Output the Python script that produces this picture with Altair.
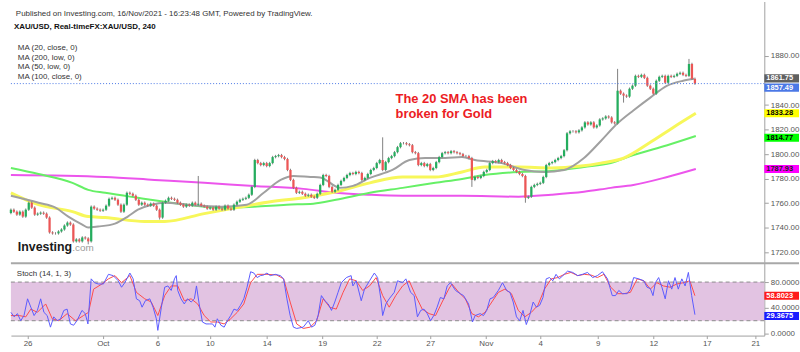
import json
import altair as alt
import pandas as pd

# ---------------- data ----------------
first_open = 1752.0
closes = [
    1754.7, 1753.1, 1750.7, 1753.1, 1749.1, 1754.7, 1760.4, 1756.4, 1750.7, 1751.5,
    1752.3, 1751.5, 1748.3, 1736.2, 1735.4, 1735.4, 1737.0, 1738.6, 1741.8, 1744.2,
    1742.6, 1728.9, 1730.5, 1728.9, 1732.1, 1731.3, 1728.9, 1757.2, 1755.6, 1754.7,
    1753.9, 1754.7, 1758.0, 1763.6, 1764.4, 1762.8, 1758.8, 1753.1, 1758.8, 1768.5,
    1767.7, 1766.1, 1762.8, 1758.8, 1760.4, 1758.8, 1758.0, 1759.6, 1758.0, 1754.7,
    1748.3, 1760.4, 1762.0, 1764.4, 1763.6, 1762.8, 1760.4, 1758.8, 1757.2, 1758.8,
    1758.0, 1760.4, 1758.8, 1759.6, 1758.0, 1757.2, 1755.6, 1756.4, 1754.7, 1757.2,
    1755.6, 1754.7, 1758.0, 1755.6, 1754.7, 1758.8, 1761.2, 1762.8, 1763.6, 1764.4,
    1766.9, 1773.3, 1795.2, 1792.7, 1791.1, 1792.7, 1790.3, 1792.7, 1797.6, 1798.4,
    1799.2, 1797.6, 1796.0, 1787.1, 1779.0, 1772.5, 1768.5, 1769.3, 1767.7, 1766.1,
    1766.9, 1765.3, 1764.4, 1767.7, 1774.9, 1783.0, 1782.2, 1773.3, 1769.3, 1770.9,
    1774.9, 1778.2, 1780.6, 1783.0, 1784.6, 1783.8, 1785.5, 1784.6, 1779.0, 1780.6,
    1783.8, 1787.1, 1788.7, 1792.7, 1795.2, 1787.1, 1793.5, 1796.8, 1798.4, 1801.6,
    1805.7, 1808.9, 1808.9, 1808.1, 1807.3, 1801.6, 1800.8, 1791.1, 1792.7, 1790.3,
    1791.9, 1787.1, 1788.7, 1793.5, 1797.6, 1800.8, 1801.6, 1800.8, 1802.4, 1801.6,
    1800.8, 1800.0, 1798.4, 1798.4, 1796.8, 1779.0, 1781.4, 1780.6, 1782.2, 1785.5,
    1787.1, 1792.7, 1794.3, 1793.5, 1795.2, 1793.5, 1792.7, 1791.1, 1788.7, 1787.1,
    1785.5, 1783.8, 1782.2, 1764.4, 1765.3, 1773.3, 1774.9, 1775.8, 1776.6, 1781.4,
    1791.1, 1792.7, 1793.5, 1795.2, 1796.8, 1798.4, 1803.2, 1817.0, 1818.6, 1818.6,
    1817.8, 1819.4, 1821.8, 1825.9, 1824.2, 1825.9, 1821.8, 1823.4, 1828.3, 1829.1,
    1830.7, 1829.9, 1825.9, 1825.1, 1851.7, 1849.3, 1847.7, 1846.9, 1853.3, 1855.8,
    1863.8, 1863.0, 1864.6, 1862.2, 1855.8, 1853.3, 1849.3, 1859.8, 1863.0, 1863.8,
    1858.2, 1863.8, 1863.0, 1863.8, 1865.5, 1866.3, 1864.6, 1863.8, 1873.5, 1861.4,
    1857.49,
]
wick = 1.0
high_spikes = {63: 1782.2, 125: 1813.7, 204: 1869.5, 228: 1877.6}
low_spikes = {26: 1726.5, 50: 1746.7, 155: 1773.3, 173: 1760.4, 206: 1842.0}

ma20_pts = [(0, 1766.1), (9.3, 1760.4), (15, 1756.4), (19.3, 1749.1), (24, 1742.6), (26, 1740.2),
            (29.3, 1741.0), (35, 1743.4), (39.3, 1749.1), (42.7, 1754.7), (47.3, 1758.8), (51.7, 1760.4),
            (59.3, 1758.8), (70.7, 1757.2), (79.3, 1758.8), (85, 1768.5), (90.7, 1779.0), (95, 1782.2),
            (100.7, 1781.4), (104, 1781.0), (110.7, 1772.5), (115, 1774.1), (120.7, 1780.6), (128.3, 1787.1),
            (134, 1795.2), (139.3, 1796.8), (146, 1796.8), (151.7, 1797.6), (156, 1795.2), (165, 1792.7),
            (172.7, 1787.1), (179.3, 1785.5), (186, 1787.1), (192.7, 1796.8), (198.3, 1810.5), (204, 1825.1),
            (209.3, 1835.6), (215, 1846.1), (220.7, 1855.8), (226, 1859.8), (229.7, 1861.4)]
ma50_pts = [(0, 1768.5), (9.3, 1758.8), (20.7, 1753.1), (26, 1749.1), (31.7, 1748.3), (45, 1745.1),
            (51.7, 1745.1), (65, 1751.5), (76, 1756.4), (87.3, 1761.2), (98.3, 1764.4), (109.3, 1769.3),
            (120.7, 1776.6), (131.7, 1781.4), (142.7, 1781.4), (151.7, 1785.5), (159.3, 1789.5),
            (170.7, 1789.5), (181.7, 1788.7), (191.7, 1790.3), (198.3, 1792.7), (206, 1796.8),
            (215, 1809.7), (222.7, 1821.8), (230.3, 1833.3)]
ma100_pts = [(0, 1788.7), (9.3, 1783.8), (20.7, 1776.6), (26, 1770.9), (31.7, 1768.5), (42.7, 1764.4),
             (51.7, 1761.2), (59.3, 1758.8), (70.7, 1756.4), (81.7, 1757.2), (92.7, 1758.8), (101.7, 1759.6),
             (109.3, 1762.8), (120.7, 1768.5), (131.7, 1772.5), (142.7, 1776.6), (151.7, 1779.8),
             (159.3, 1783.0), (170.7, 1785.5), (181.7, 1786.3), (192.7, 1789.5), (201.7, 1792.7),
             (209.3, 1799.2), (220.7, 1807.3), (230.3, 1814.8)]
ma200_pts = [(0, 1783.0), (31.7, 1781.4), (48.3, 1779.0), (65, 1776.6), (81.7, 1774.1), (98.3, 1771.7),
             (109.3, 1768.5), (120.7, 1766.9), (131.7, 1766.1), (151.7, 1766.1), (170.7, 1765.3),
             (181.7, 1766.9), (192.7, 1769.3), (201.7, 1772.5), (209.3, 1774.9), (220.7, 1781.4),
             (230.3, 1787.9)]

k_pts = [(0.0, 33), (1.1, 26), (2.2, 31), (3.3, 20), (4.4, 28), (5.6, 54), (6.7, 41), (7.8, 28), (8.9, 36),
         (10.0, 54), (11.1, 33), (12.2, 28), (13.3, 10), (14.4, 26), (15.6, 20), (16.7, 23), (17.8, 36),
         (18.9, 38), (20.0, 15), (21.1, 13), (22.2, 20), (23.9, 36), (25.0, 31), (25.9, 15), (27.0, 85),
         (28.1, 79), (29.4, 77), (31.1, 77), (32.8, 92), (34.4, 90), (36.1, 82), (37.2, 72), (38.3, 79),
         (40.0, 94), (41.1, 85), (42.2, 54), (43.3, 51), (44.1, 41), (45.2, 51), (46.7, 54), (47.8, 41),
         (48.9, 23), (49.4, 5), (50.6, 41), (51.7, 72), (52.8, 74), (53.9, 67), (55.0, 85), (55.6, 90),
         (56.1, 67), (57.2, 54), (58.3, 46), (59.4, 54), (60.6, 49), (61.7, 54), (62.4, 74), (63.3, 46),
         (64.4, 18), (65.6, 15), (66.7, 15), (67.8, 15), (68.6, 10), (69.4, 23), (70.6, 13), (71.7, 10),
         (72.8, 20), (73.9, 28), (75.0, 38), (76.1, 36), (77.2, 44), (78.3, 54), (79.4, 72), (80.6, 96),
         (81.7, 94), (82.8, 87), (83.9, 90), (85.0, 91), (86.1, 94), (87.2, 90), (88.9, 92), (90.6, 90),
         (91.7, 85), (92.8, 54), (93.9, 28), (95.0, 10), (96.1, 8), (97.2, 9), (98.3, 10), (100.0, 20),
         (101.1, 10), (102.2, 13), (103.3, 28), (104.4, 59), (105.6, 51), (106.7, 46), (107.8, 36),
         (108.9, 49), (110.0, 64), (111.1, 79), (112.8, 87), (114.4, 90), (115.0, 74), (116.1, 82),
         (117.8, 51), (118.9, 69), (120.6, 82), (122.2, 94), (123.3, 87), (124.4, 54), (125.0, 28),
         (126.1, 46), (127.2, 54), (128.9, 64), (130.0, 82), (131.7, 79), (132.8, 85), (134.4, 64),
         (135.6, 59), (136.7, 26), (137.8, 36), (138.9, 38), (140.0, 31), (141.1, 20), (142.2, 28),
         (143.3, 41), (144.4, 56), (145.6, 54), (146.7, 74), (147.8, 79), (149.5, 67), (151.1, 62),
         (152.2, 59), (153.9, 46), (155.2, 18), (156.1, 28), (157.8, 31), (158.9, 28), (160.0, 36),
         (161.1, 54), (162.2, 56), (163.9, 67), (165.3, 79), (166.7, 67), (167.8, 64), (168.9, 49),
         (170.0, 26), (171.1, 20), (172.2, 36), (173.3, 14), (174.4, 28), (175.6, 49), (176.7, 41),
         (177.8, 44), (178.9, 56), (180.0, 85), (181.1, 87), (182.2, 82), (183.3, 92), (184.4, 85),
         (185.6, 90), (187.2, 97), (188.9, 95), (190.6, 90), (192.2, 92), (193.9, 95), (195.6, 87),
         (197.2, 90), (198.9, 96), (200.6, 85), (202.2, 59), (203.3, 59), (204.4, 67), (205.6, 62),
         (207.2, 62), (208.3, 69), (209.4, 87), (211.1, 85), (212.8, 82), (213.9, 72), (215.0, 70),
         (215.9, 59), (216.7, 79), (217.8, 87), (218.9, 72), (220.0, 54), (221.1, 82), (222.2, 69),
         (223.3, 87), (224.4, 69), (225.6, 85), (226.7, 74), (227.8, 95), (228.9, 59), (230.0, 29.37)]
d_pts = [(0.0, 28), (2.8, 28), (5.0, 26), (6.7, 38), (8.9, 33), (11.7, 46), (13.9, 23), (16.1, 20),
         (18.9, 31), (21.7, 20), (24.4, 28), (26.1, 33), (27.8, 69), (30.6, 77), (32.8, 85), (35.0, 90),
         (37.2, 79), (40.0, 90), (42.2, 64), (45.0, 54), (47.2, 49), (49.4, 28), (51.7, 59), (53.9, 74),
         (56.1, 74), (58.3, 51), (60.6, 54), (62.8, 46), (65.0, 28), (67.2, 18), (69.4, 18), (71.7, 15),
         (73.9, 23), (76.1, 33), (78.3, 46), (80.6, 79), (82.8, 92), (86.1, 92), (89.4, 91), (91.7, 85),
         (93.9, 49), (96.1, 15), (98.3, 8), (100.6, 10), (102.8, 20), (105.0, 54), (107.2, 41),
         (109.4, 38), (111.7, 64), (113.9, 85), (116.1, 82), (118.3, 67), (120.6, 74), (122.8, 87),
         (125.0, 59), (127.2, 41), (129.4, 59), (131.7, 74), (133.9, 82), (136.1, 59), (138.3, 38),
         (140.6, 31), (142.8, 28), (145.0, 49), (147.2, 69), (148.3, 77), (150.6, 64), (152.8, 54),
         (155.0, 31), (157.2, 26), (159.4, 33), (161.7, 49), (163.9, 64), (166.1, 69), (168.3, 62),
         (170.6, 36), (172.8, 26), (175.0, 33), (177.2, 44), (179.4, 69), (181.7, 85), (183.9, 87),
         (186.1, 92), (188.3, 95), (190.6, 90), (192.8, 92), (195.0, 91), (197.2, 87), (199.4, 92),
         (201.7, 72), (203.9, 62), (206.1, 62), (208.3, 64), (210.6, 85), (212.8, 82), (215.0, 69),
         (217.2, 79), (219.4, 74), (221.7, 72), (223.9, 77), (226.1, 79), (228.3, 82), (230.0, 58.80)]

tick_idx = [5.6, 30.9, 49.3, 66.9, 86.0, 104.7, 123.0, 141.0, 159.7, 178.0, 197.3, 216.0, 234.0, 250.3]
tick_lbl = ['26', 'Oct', '6', '10', '14', '19', '22', '27', 'Nov', '4', '9', '12', '17', '21']
# 1860.00 sits fully under the 1861.75 / 1857.49 tags in the reference, so it is not shown
price_ticks = [1720, 1740, 1760, 1780, 1800, 1820, 1840, 1880]
stoch_ticks = [0, 40, 80]

tag_val = [1861.75, 1857.49, 1833.28, 1814.77, 1787.93]
tag_pos = [1861.75, 1854.2, 1833.28, 1813.3, 1787.93]
tag_bg = ['#606060', '#4b78e6', '#ffff00', '#00ff00', '#ff00ff']
tag_fg = ['#ffffff', '#ffffff', '#000000', '#000000', '#222222']

stag_val = [58.8023, 29.3675]
stag_pos = [58.8, 27.5]
stag_bg = ['#ff1a1a', '#1a1aff']
stag_fg = ['#ffffff', '#ffffff']

ma_legend = ['MA (20, close, 0)', 'MA (200, low, 0)', 'MA (50, low, 0)', 'MA (100, close, 0)']

# ---------------- tables ----------------
opens = [first_open] + closes[:-1]
rows = []
for i, (o, c) in enumerate(zip(opens, closes)):
    rows.append(dict(i=i, x1=i - 0.38, x2=i + 0.38, o=o, c=c,
                     h=high_spikes.get(i, max(o, c) + wick),
                     l=low_spikes.get(i, min(o, c) - wick),
                     d='up' if c >= o else 'down'))
candles = pd.DataFrame(rows)

W, H1, H2 = 760, 263, 74
xscale = alt.Scale(domain=[0, 253.33], nice=False, zero=False)
pscale = alt.Scale(domain=[1711.9, 1924.4], nice=False, zero=False)
sscale = alt.Scale(domain=[-3.1, 110.8], nice=False, zero=False)

p_axis = alt.Axis(orient='right', values=price_ticks, format='.2f', title=None, grid=False,
                  tickSize=4, labelPadding=2)
s_axis = alt.Axis(orient='right', values=stoch_ticks, format='.4f', title=None, grid=False,
                  tickSize=4, labelPadding=2)
x_axis = alt.Axis(orient='bottom', values=tick_idx, title=None, grid=False, tickSize=3,
                  labelPadding=1, labelOverlap=False, labelFlush=False,
                  labelExpr=f"{json.dumps(tick_lbl)}[indexof({json.dumps(tick_idx)}, datum.value)]")


def text_at(txt, x, y, size=8, weight='normal', color='#333333'):
    return alt.Chart(pd.DataFrame({'t': [txt]})).mark_text(
        align='left', baseline='alphabetic', fontSize=size, fontWeight=weight, color=color
    ).encode(x=alt.value(x), y=alt.value(y), text='t:N')


def ma_line(pts, color, width):
    df = pd.DataFrame(pts, columns=['i', 'v'])
    return alt.Chart(df).mark_line(color=color, strokeWidth=width, interpolate='monotone').encode(
        x=alt.X('i:Q', scale=xscale, axis=None),
        y=alt.Y('v:Q', scale=pscale, axis=p_axis))


# ---------------- top panel ----------------
layers = [
    text_at('Published on Investing.com, 16/Nov/2021 - 16:23:48 GMT, Powered by TradingView.', 5, 15, 8),
    text_at('XAU/USD, Real-timeFX:XAU/USD, 240', 3, 28, 8, 'bold', '#111111'),
]
for k, t in enumerate(ma_legend):
    layers.append(text_at(t, 7, 49 + 9.6 * k, 8, 'normal', '#333333'))

layers += [
    ma_line(ma200_pts, '#ec55ec', 2),
    ma_line(ma100_pts, '#66f066', 2),
    ma_line(ma50_pts, '#f7f75a', 3),
    ma_line(ma20_pts, '#a0a0a0', 2),
]

cbase = alt.Chart(candles)
layers.append(cbase.mark_rule(color='#808080', strokeWidth=1).encode(
    x=alt.X('i:Q', scale=xscale, axis=None),
    y=alt.Y('l:Q', scale=pscale, axis=p_axis), y2='h:Q'))
layers.append(cbase.mark_rect().encode(
    x=alt.X('x1:Q', scale=xscale, axis=None), x2='x2:Q',
    y=alt.Y('o:Q', scale=pscale, axis=p_axis), y2='c:Q',
    color=alt.Color('d:N', scale=alt.Scale(domain=['up', 'down'], range=['#25ad5e', '#ec5656']),
                    legend=None)))

layers.append(alt.Chart(pd.DataFrame({'p': [closes[-1]]})).mark_rule(
    color='#4b78e6', strokeDash=[1, 2], strokeWidth=1).encode(
    y=alt.Y('p:Q', scale=pscale, axis=p_axis), x=alt.value(0), x2=alt.value(W)))

tags = pd.DataFrame({'v': tag_val, 'p': tag_pos, 'bg': tag_bg, 'fg': tag_fg})
tbase = alt.Chart(tags).transform_calculate(lo='datum.p - 3.3', hi='datum.p + 3.3')
layers.append(tbase.mark_rect().encode(
    y=alt.Y('lo:Q', scale=pscale, axis=p_axis), y2='hi:Q',
    x=alt.value(W), x2=alt.value(W + 35), color=alt.Color('bg:N', scale=None)))
layers.append(alt.Chart(tags).mark_text(align='left', baseline='middle', fontSize=7.5, fontWeight='bold').encode(
    y=alt.Y('p:Q', scale=pscale, axis=p_axis), x=alt.value(W + 2),
    text=alt.Text('v:Q', format='.2f'), color=alt.Color('fg:N', scale=None)))

layers.append(text_at('The 20 SMA has been', 388, 102.5, 13, 'bold', '#ec1c24'))
layers.append(text_at('broken for Gold', 388, 118, 13, 'bold', '#ec1c24'))
layers.append(text_at('Investing', 7, 252, 12.5, 'bold', '#1a1a1a'))
layers.append(text_at('.com', 62, 252, 10, 'normal', '#9a9a9a'))

top = alt.layer(*layers).properties(width=W, height=H1)

# ---------------- stochastic panel ----------------
kdf = pd.DataFrame(k_pts, columns=['i', 'v'])
ddf = pd.DataFrame(d_pts, columns=['i', 'v'])
slayers = [
    alt.Chart(pd.DataFrame({'lo': [20], 'hi': [80]})).mark_rect(color='#e2c3e2').encode(
        y=alt.Y('lo:Q', scale=sscale, axis=s_axis), y2='hi:Q', x=alt.value(0), x2=alt.value(W)),
    alt.Chart(pd.DataFrame({'v': [20, 80]})).mark_rule(color='#8c8c8c', strokeDash=[4, 3]).encode(
        y=alt.Y('v:Q', scale=sscale, axis=s_axis), x=alt.value(0), x2=alt.value(W)),
    alt.Chart(pd.DataFrame({'a': [0]})).mark_rule(color='#a8a8a8', strokeWidth=2).encode(
        y=alt.value(1), x=alt.value(0), x2=alt.value(W + 35)),
    alt.Chart(ddf).mark_line(color='#ff4a4a', strokeWidth=1).encode(
        x=alt.X('i:Q', scale=xscale, axis=x_axis), y=alt.Y('v:Q', scale=sscale, axis=s_axis)),
    alt.Chart(kdf).mark_line(color='#5a5aff', strokeWidth=1).encode(
        x=alt.X('i:Q', scale=xscale, axis=x_axis), y=alt.Y('v:Q', scale=sscale, axis=s_axis)),
    text_at('Stoch (14, 1, 3)', 6, 13.5, 8, 'normal', '#333333'),
]
stags = pd.DataFrame({'v': stag_val, 'p': stag_pos, 'bg': stag_bg, 'fg': stag_fg})
slayers.append(alt.Chart(stags).transform_calculate(lo='datum.p - 6.2', hi='datum.p + 6.2').mark_rect().encode(
    y=alt.Y('lo:Q', scale=sscale, axis=s_axis), y2='hi:Q',
    x=alt.value(W), x2=alt.value(W + 35), color=alt.Color('bg:N', scale=None)))
slayers.append(alt.Chart(stags).mark_text(align='left', baseline='middle', fontSize=7.5, fontWeight='bold').encode(
    y=alt.Y('p:Q', scale=sscale, axis=s_axis), x=alt.value(W + 2),
    text=alt.Text('v:Q', format='.4f'), color=alt.Color('fg:N', scale=None)))

bottom = alt.layer(*slayers).properties(width=W, height=H2)

chart = alt.vconcat(top, bottom, spacing=0).properties(
    padding={'left': 5, 'top': 0, 'right': 0, 'bottom': 0}
).configure(font='Liberation Sans').configure_view(stroke=None).configure_axis(
    labelFont='Liberation Sans', labelFontSize=8, labelColor='#555555',
    domainColor='#a0a0a0', tickColor='#a0a0a0'
)

chart.save('out.html', embed_options={'renderer': 'svg', 'actions': False})
